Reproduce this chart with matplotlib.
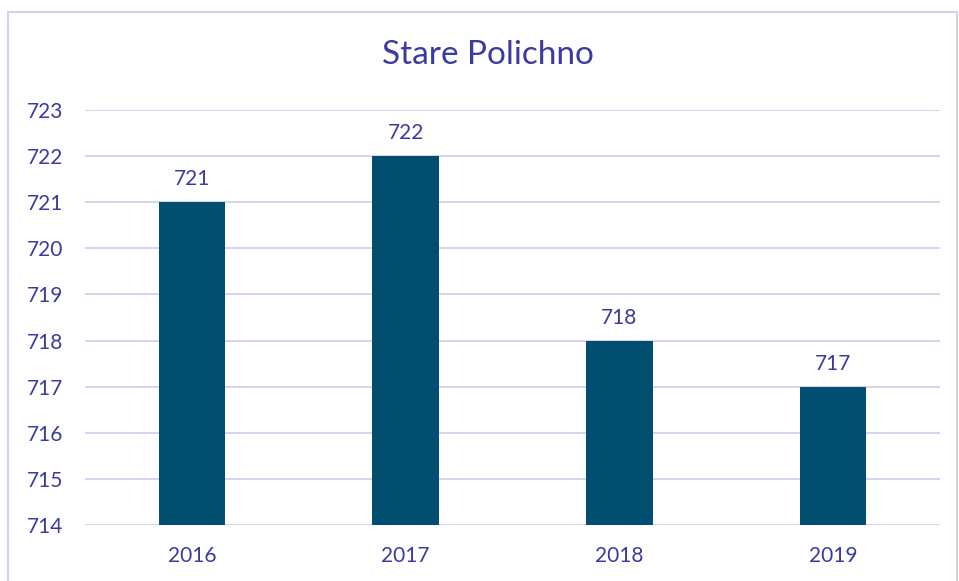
import matplotlib
matplotlib.use("Agg")
import matplotlib.pyplot as plt
from matplotlib.patches import Rectangle

categories = ["2016", "2017", "2018", "2019"]
values = [721, 722, 718, 717]
yticks = list(range(714, 724))
title = "Stare Polichno"

text_color = "#3B3A9E"
grid_color = "#D3D0F0"
bar_color = "#024E70"

plt.rcParams['font.family'] = ['Lato', 'DejaVu Sans']

W, H = 959, 581
fig = plt.figure(figsize=(W / 100, H / 100), dpi=100)
ax = fig.add_axes([85 / W, 1 - 525 / H, (940 - 85) / W, (525 - 110) / H])

x = range(len(categories))
bars = ax.bar(x, values, width=0.31, color=bar_color, zorder=3, bottom=0)
ax.set_ylim(714, 723)
ax.set_xlim(-0.5, len(categories) - 0.5)
ax.set_yticks(yticks)
ax.set_yticklabels([str(t) for t in yticks])
ax.set_xticks(list(x))
ax.set_xticklabels(categories)
ax.tick_params(axis='both', length=0, labelsize=15, labelcolor=text_color)
ax.tick_params(axis='y', pad=16)
ax.tick_params(axis='x', pad=15)
for t in yticks:
    ax.axhline(t, color=grid_color, linewidth=1.3, zorder=1)
for s in ax.spines.values():
    s.set_visible(False)

for xi, v in zip(x, values):
    ax.annotate(str(v), (xi, v), xytext=(0, 16.5), textcoords='offset points',
                ha='center', va='center', fontsize=15, color=text_color)

fig.text(488 / W, 1 - 55 / H, title, ha='center', va='center', fontsize=24, color=text_color)

border = Rectangle((8 / W, -0.1), (957 - 8) / W, (1 - 12 / H) + 0.1, transform=fig.transFigure,
                   fill=False, edgecolor=grid_color, linewidth=1.5)
fig.patches.append(border)

fig.savefig("out.png", dpi=100)
